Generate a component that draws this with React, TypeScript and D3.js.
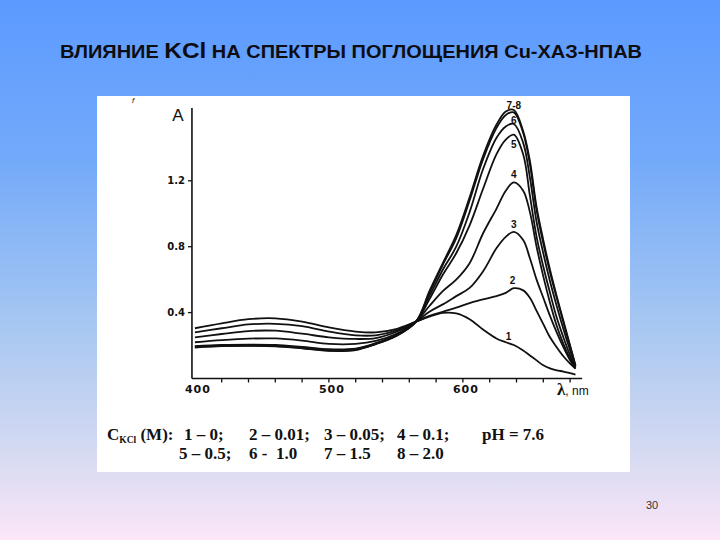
import React from 'react';
import * as d3 from 'd3';

// ---- data ----
const WAVELENGTHS = [400, 420, 440, 460, 480, 500, 520, 535, 550, 565, 575, 585, 595, 605, 615, 625, 632, 638, 645, 650, 655, 660, 665, 670, 675, 680, 684];

const CURVE_1 = [0.305, 0.335, 0.36, 0.365, 0.345, 0.31, 0.285, 0.28, 0.3, 0.345, 0.375, 0.398, 0.395, 0.36, 0.297, 0.243, 0.22, 0.203, 0.17, 0.14, 0.11, 0.08, 0.062, 0.05, 0.042, 0.032, 0.024];
const CURVE_2 = [0.28, 0.305, 0.328, 0.332, 0.318, 0.285, 0.262, 0.262, 0.29, 0.345, 0.38, 0.405, 0.43, 0.458, 0.48, 0.5, 0.52, 0.548, 0.535, 0.49, 0.41, 0.33, 0.25, 0.19, 0.135, 0.09, 0.06];
const CURVE_3 = [0.25, 0.27, 0.288, 0.29, 0.272, 0.25, 0.24, 0.245, 0.282, 0.345, 0.405, 0.45, 0.5, 0.55, 0.65, 0.79, 0.86, 0.89, 0.84, 0.73, 0.6, 0.49, 0.38, 0.28, 0.19, 0.11, 0.06];
const CURVE_4 = [0.22, 0.233, 0.242, 0.243, 0.23, 0.21, 0.21, 0.228, 0.27, 0.345, 0.44, 0.53, 0.6, 0.7, 0.88, 1.03, 1.14, 1.19, 1.14, 1.01, 0.8, 0.62, 0.46, 0.32, 0.21, 0.12, 0.065];
const CURVE_5 = [0.196, 0.204, 0.206, 0.204, 0.192, 0.178, 0.182, 0.215, 0.262, 0.345, 0.48, 0.63, 0.76, 0.93, 1.15, 1.36, 1.45, 1.48, 1.36, 1.11, 0.86, 0.68, 0.52, 0.37, 0.25, 0.14, 0.07];
const CURVE_6 = [0.193, 0.201, 0.203, 0.2, 0.188, 0.174, 0.178, 0.212, 0.26, 0.345, 0.5, 0.66, 0.8, 1.01, 1.27, 1.46, 1.53, 1.545, 1.43, 1.22, 0.95, 0.76, 0.59, 0.44, 0.3, 0.17, 0.075];
const CURVE_7 = [0.19, 0.198, 0.2, 0.197, 0.185, 0.17, 0.175, 0.21, 0.258, 0.345, 0.52, 0.69, 0.85, 1.08, 1.33, 1.52, 1.6, 1.615, 1.49, 1.3, 1.02, 0.82, 0.645, 0.49, 0.34, 0.195, 0.078];
const CURVE_8 = [0.188, 0.196, 0.198, 0.195, 0.183, 0.168, 0.173, 0.208, 0.256, 0.345, 0.53, 0.7, 0.87, 1.1, 1.35, 1.54, 1.62, 1.63, 1.5, 1.32, 1.04, 0.84, 0.66, 0.5, 0.35, 0.2, 0.08];
const CURVES = [CURVE_1, CURVE_2, CURVE_3, CURVE_4, CURVE_5, CURVE_6, CURVE_7, CURVE_8];

const PEAK_LABELS = ['7-8', '6', '5', '4', '3', '2', '1'];
const PEAK_LABEL_WL = [638, 638, 638, 638, 638, 637, 634];
const PEAK_LABEL_A = [1.66, 1.565, 1.42, 1.24, 0.935, 0.595, 0.255];

const Y_TICKS = [0.4, 0.8, 1.2];
const Y_TICK_LABELS = ['0.4', '0.8', '1.2'];
const X_LABEL_TICKS = [400, 500, 600];
const X_MINOR_TICKS = [420, 440, 460, 480, 500, 520, 540, 560, 580, 600, 620, 640, 660, 680];

const TITLE_PARTS = ['ВЛИЯНИЕ ', 'KCl', ' НА СПЕКТРЫ ПОГЛОЩЕНИЯ Cu-ХАЗ-НПАВ'];
const LEGEND_ROW1 = ['1 – 0;', '2 – 0.01;', '3 – 0.05;', '4 – 0.1;'];
const LEGEND_ROW2 = ['5 – 0.5;', '6 -  1.0', '7 – 1.5', '8 – 2.0'];
const LEGEND_PH = 'pH = 7.6';
const PAGE_NUMBER = '30';

export default function App() {
  const x = d3.scaleLinear().domain([400, 680]).range([194.9, 570.1]);
  const y = d3.scaleLinear().domain([0, 1.2]).range([378.5, 180.8]);
  const line = d3
    .line<number>()
    .x((_, i) => x(WAVELENGTHS[i]))
    .y((d) => y(d))
    .curve(d3.curveCatmullRom.alpha(0.5));

  const axisX0 = x(397.8);
  const axisX1 = x(689);
  const axisY = y(0);
  const axisTop = 108;

  const row1X = [184, 249, 324, 397];
  const row2X = [179, 249, 324, 397];
  const serif = '"Liberation Serif", "Times New Roman", serif';
  const sans = '"Liberation Sans", Arial, sans-serif';

  return (
    <svg
      width={720}
      height={540}
      style={{ position: 'absolute', left: 0, top: 0 }}
      xmlns="http://www.w3.org/2000/svg"
    >
      <defs>
        <linearGradient id="bg" x1="0" y1="0" x2="0" y2="1">
          <stop offset="0" stopColor="#5b9aff" />
          <stop offset="0.3" stopColor="#74aafa" />
          <stop offset="0.6" stopColor="#a6c7f1" />
          <stop offset="0.85" stopColor="#d8dbf2" />
          <stop offset="1" stopColor="#fce6f8" />
        </linearGradient>
      </defs>
      <rect x={0} y={0} width={720} height={540} fill="url(#bg)" />

      {/* title */}
      <text
        x={60}
        y={58}
        fontFamily={sans}
        fontWeight="bold"
        fontSize={18}
        fill="#0d0d12"
        textLength={582}
        lengthAdjust="spacingAndGlyphs"
      >
        <tspan>{TITLE_PARTS[0]}</tspan>
        <tspan fontSize={22}>{TITLE_PARTS[1]}</tspan>
        <tspan>{TITLE_PARTS[2]}</tspan>
      </text>

      {/* white panel */}
      <rect x={97} y={96} width={533} height={376} fill="#ffffff" />

      {/* small artifact mark */}
      <text x={132} y={103} fontSize={8} fontFamily={sans} fontStyle="italic" fill="#222">
        f
      </text>

      {/* axes */}
      <line x1={axisX0} x2={axisX1} y1={axisY} y2={axisY} stroke="#111" strokeWidth={1.6} />
      <line x1={axisX0} x2={axisX0} y1={axisTop} y2={axisY} stroke="#111" strokeWidth={1.6} />
      {X_MINOR_TICKS.map((t) => (
        <line key={t} x1={x(t)} x2={x(t)} y1={axisY} y2={axisY + 4} stroke="#111" strokeWidth={1.3} />
      ))}
      {Y_TICKS.map((t, i) => (
        <g key={t}>
          <line x1={axisX0 - 4} x2={axisX0} y1={y(t)} y2={y(t)} stroke="#111" strokeWidth={1.3} />
          <text
            x={axisX0 - 7}
            y={y(t)}
            textAnchor="end"
            dominantBaseline="central"
            fontFamily='"DejaVu Sans", sans-serif'
            fontWeight="bold"
            fontSize={10}
            fill="#111"
          >
            {Y_TICK_LABELS[i]}
          </text>
        </g>
      ))}
      {X_LABEL_TICKS.map((t) => (
        <text
          key={t}
          x={x(t) + 3}
          y={393}
          textAnchor="middle"
          fontFamily='"DejaVu Sans", sans-serif'
          fontWeight="bold"
          fontSize={11}
          letterSpacing={1}
          fill="#111"
        >
          {t}
        </text>
      ))}
      <text x={178} y={120.5} textAnchor="middle" fontFamily={sans} fontSize={17} fill="#111">
        A
      </text>
      <text x={557} y={395} fill="#111">
        <tspan fontFamily={serif} fontWeight="bold" fontSize={17}>λ</tspan>
        <tspan fontFamily={sans} fontSize={12}>, nm</tspan>
      </text>

      {/* curves */}
      {CURVES.map((c, i) => (
        <path key={i} d={line(c) || ''} fill="none" stroke="#111" strokeWidth={1.8} strokeLinejoin="round" />
      ))}

      {/* curve labels */}
      {PEAK_LABELS.map((l, i) => (
        <text
          key={l}
          x={x(PEAK_LABEL_WL[i])}
          y={y(PEAK_LABEL_A[i])}
          textAnchor="middle"
          dominantBaseline="central"
          fontFamily={sans}
          fontWeight="bold"
          fontSize={10}
          fill="#111"
        >
          {l}
        </text>
      ))}

      {/* legend */}
      <g fontFamily={serif} fontWeight="bold" fontSize={17} fill="#111">
        <text x={107} y={440}>
          <tspan>C</tspan>
          <tspan fontSize={9.5} dy={3}>KCl</tspan>
          <tspan dy={-3}> (M):</tspan>
        </text>
        {LEGEND_ROW1.map((s, i) => (
          <text key={s} x={row1X[i]} y={440}>
            {s}
          </text>
        ))}
        <text x={482} y={440}>
          {LEGEND_PH}
        </text>
        {LEGEND_ROW2.map((s, i) => (
          <text key={s} x={row2X[i]} y={459} style={{ whiteSpace: 'pre' }}>
            {s}
          </text>
        ))}
      </g>

      {/* page number */}
      <text x={652} y={509} textAnchor="middle" fontFamily={sans} fontSize={11} fill="#333">
        {PAGE_NUMBER}
      </text>
    </svg>
  );
}
